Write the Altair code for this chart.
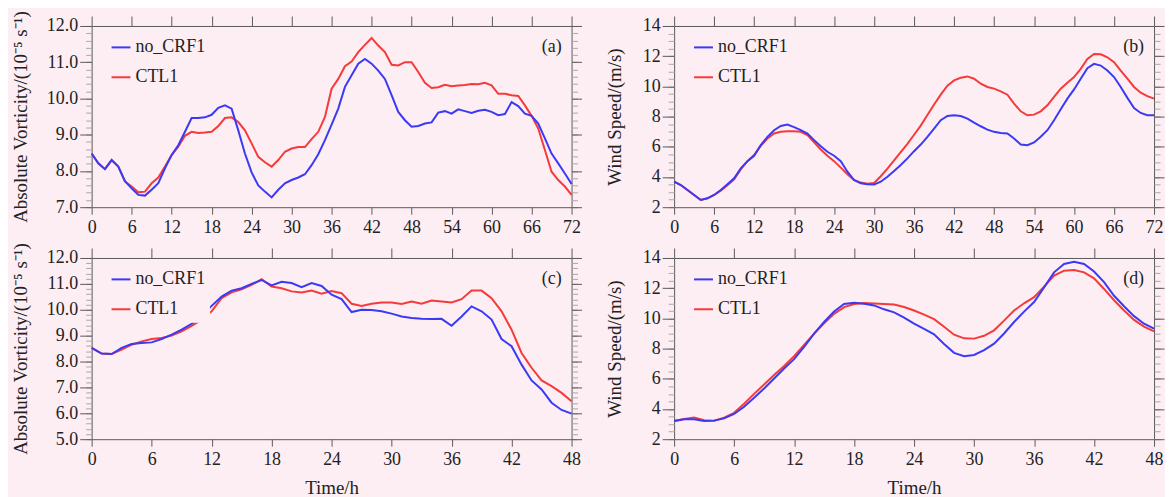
import altair as alt
import pandas as pd

BG = "#fdeef4"
FONT = "Liberation Serif"
BLUE = "#3a3af5"
RED = "#f53a3a"
FRAME = "#5a5a5a"
MINOR = "#a8a8a8"
TXT = "#222222"

series_names = ["no_CRF1", "CTL1"]

hours_72 = list(range(73))
hours_48 = list(range(49))

# (a) absolute vorticity, 72 h
a_no = [8.48, 8.21, 8.05, 8.30, 8.12, 7.72, 7.52, 7.34, 7.32, 7.48,
        7.66, 8.07, 8.44, 8.71, 9.08, 9.46, 9.46, 9.48, 9.55, 9.74,
        9.81, 9.72, 9.12, 8.48, 7.96, 7.60, 7.43, 7.27, 7.48, 7.66,
        7.75, 7.82, 7.91, 8.16, 8.46, 8.85, 9.28, 9.72, 10.32, 10.64,
        10.96, 11.09, 10.96, 10.77, 10.54, 10.09, 9.63, 9.40, 9.22, 9.24,
        9.31, 9.34, 9.61, 9.65, 9.58, 9.70, 9.65, 9.60, 9.66, 9.69,
        9.63, 9.54, 9.57, 9.90, 9.79, 9.58, 9.52, 9.31, 8.90, 8.48,
        8.21, 7.93, 7.64]
a_ctl = [8.48, 8.21, 8.05, 8.30, 8.12, 7.71, 7.57, 7.41, 7.43, 7.66,
         7.82, 8.12, 8.44, 8.67, 8.97, 9.08, 9.05, 9.06, 9.08, 9.24,
         9.46, 9.48, 9.35, 9.12, 8.76, 8.39, 8.24, 8.12, 8.30, 8.53,
         8.62, 8.66, 8.66, 8.88, 9.08, 9.49, 10.27, 10.54, 10.89, 11.02,
         11.28, 11.48, 11.67, 11.46, 11.28, 10.93, 10.91, 11.00, 11.00, 10.73,
         10.43, 10.29, 10.31, 10.38, 10.34, 10.36, 10.37, 10.40, 10.39, 10.43,
         10.36, 10.13, 10.13, 10.09, 10.07, 9.81, 9.52, 9.17, 8.58, 7.98,
         7.75, 7.57, 7.34]

# (b) wind speed, 72 h
b_no = [3.69, 3.47, 3.14, 2.81, 2.48, 2.59, 2.81, 3.14, 3.52, 3.91,
        4.57, 5.05, 5.41, 6.11, 6.66, 7.10, 7.38, 7.47, 7.30, 7.10,
        6.88, 6.44, 6.04, 5.67, 5.41, 5.05, 4.35, 3.80, 3.58, 3.52,
        3.50, 3.69, 4.02, 4.40, 4.79, 5.23, 5.71, 6.15, 6.66, 7.21,
        7.76, 8.04, 8.09, 8.04, 7.87, 7.60, 7.36, 7.14, 6.99, 6.92,
        6.88, 6.55, 6.15, 6.11, 6.29, 6.66, 7.10, 7.76, 8.48, 9.19,
        9.80, 10.51, 11.21, 11.49, 11.38, 11.05, 10.62, 9.96, 9.24, 8.57,
        8.24, 8.09, 8.09]
b_ctl = [3.69, 3.47, 3.14, 2.81, 2.48, 2.59, 2.81, 3.10, 3.45, 3.85,
         4.50, 5.05, 5.45, 6.07, 6.55, 6.88, 6.99, 7.03, 7.03, 6.99,
         6.77, 6.29, 5.82, 5.41, 5.05, 4.62, 4.18, 3.80, 3.63, 3.56,
         3.60, 4.05, 4.55, 5.10, 5.65, 6.20, 6.80, 7.40, 8.10, 8.80,
         9.45, 10.05, 10.40, 10.57, 10.66, 10.51, 10.18, 9.96, 9.85, 9.67,
         9.45, 8.86, 8.35, 8.09, 8.13, 8.35, 8.75, 9.30, 9.85, 10.24,
         10.62, 11.16, 11.82, 12.15, 12.13, 11.93, 11.60, 11.05, 10.51, 9.96,
         9.58, 9.36, 9.19]

# (c) absolute vorticity, 48 h
c_no = [8.53, 8.31, 8.29, 8.53, 8.68, 8.72, 8.74, 8.87, 9.04, 9.23,
        9.46, 9.75, 10.15, 10.51, 10.74, 10.83, 11.00, 11.15, 10.94, 11.08,
        11.03, 10.87, 11.03, 10.92, 10.58, 10.41, 9.91, 10.00, 9.99, 9.94,
        9.85, 9.74, 9.68, 9.65, 9.64, 9.65, 9.38, 9.74, 10.13, 9.94,
        9.62, 8.87, 8.59, 7.88, 7.27, 6.92, 6.41, 6.13, 5.99]
c_ctl = [8.53, 8.31, 8.29, 8.46, 8.65, 8.78, 8.87, 8.91, 9.00, 9.17,
         9.38, 9.62, 9.94, 10.45, 10.67, 10.79, 10.96, 11.18, 10.90, 10.83,
         10.71, 10.67, 10.74, 10.62, 10.72, 10.64, 10.23, 10.15, 10.23, 10.28,
         10.28, 10.22, 10.32, 10.23, 10.36, 10.32, 10.28, 10.41, 10.74, 10.74,
         10.45, 9.94, 9.23, 8.33, 7.76, 7.27, 7.05, 6.79, 6.47]

# (d) wind speed, 48 h
d_no = [3.21, 3.32, 3.32, 3.21, 3.23, 3.38, 3.67, 4.15, 4.75, 5.36,
        6.02, 6.68, 7.30, 8.11, 8.99, 9.76, 10.46, 10.95, 11.03, 10.97,
        10.86, 10.60, 10.40, 10.05, 9.65, 9.30, 8.95, 8.30, 7.72, 7.50,
        7.58, 7.90, 8.33, 9.00, 9.76, 10.45, 11.08, 12.05, 13.05, 13.60,
        13.75, 13.60, 13.10, 12.40, 11.50, 10.80, 10.15, 9.65, 9.32]
d_ctl = [3.21, 3.34, 3.43, 3.25, 3.23, 3.43, 3.75, 4.35, 5.00, 5.62,
         6.25, 6.85, 7.50, 8.25, 8.99, 9.68, 10.30, 10.75, 10.95, 11.02,
         10.98, 10.95, 10.92, 10.75, 10.52, 10.25, 9.95, 9.45, 8.92, 8.68,
         8.66, 8.85, 9.21, 9.85, 10.52, 11.00, 11.41, 12.10, 12.83, 13.16,
         13.21, 13.05, 12.65, 11.95, 11.20, 10.52, 9.90, 9.45, 9.14]

vort_title = "Absolute Vorticity/(10\u207b\u2075 s\u207b\u00b9)"
wind_title = "Wind Speed/(m/s)"

W, H = 482, 182


def make_df(hours, no, ctl):
    rows = [{"t": h, "v": v, "s": "CTL1"} for h, v in zip(hours, ctl)]
    rows += [{"t": h, "v": v, "s": "no_CRF1"} for h, v in zip(hours, no)]
    return pd.DataFrame(rows)


def frange(lo, hi, step):
    n = int(round((hi - lo) / step))
    return [round(lo + i * step, 4) for i in range(n + 1)]


def panel(df, xmax, ymin, ymax, ystep, yminor, yfmt, ytitle, tpad, label, xtitle):
    xticks = list(range(0, xmax + 1, 6))
    yticks = frange(ymin, ymax, ystep)
    yminors = frange(ymin, ymax, yminor)
    xs = alt.Scale(domain=[0, xmax], nice=False, zero=False)
    ys = alt.Scale(domain=[ymin, ymax], nice=False, zero=False)
    base = alt.Chart(df)

    lines = base.mark_line(strokeWidth=2).encode(
        x=alt.X("t:Q", scale=xs, axis=alt.Axis(
            orient="bottom", values=xticks, tickSize=7, tickColor=FRAME,
            labelPadding=4, domain=False, grid=False, labelFlush=False,
            labelOverlap=False, title=xtitle, titlePadding=11)),
        y=alt.Y("v:Q", scale=ys, axis=alt.Axis(
            orient="left", values=yticks, format=yfmt, tickSize=12,
            tickColor=FRAME, labelPadding=2, domain=False, grid=False,
            labelFlush=False, labelOverlap=False, title=ytitle, titlePadding=tpad)),
        color=alt.Color("s:N", scale=alt.Scale(domain=series_names, range=[BLUE, RED]),
                        legend=alt.Legend(
                            title=None, orient="none", legendX=16, legendY=8,
                            symbolType="stroke", symbolSize=361, symbolStrokeWidth=2,
                            labelFont=FONT, labelFontSize=18, labelColor=TXT,
                            labelOffset=4, rowPadding=10, padding=3,
                            fillColor=BG, strokeColor=BG)),
    )
    top_right = base.mark_line(strokeOpacity=0).encode(
        x=alt.X("t:Q", scale=xs, axis=alt.Axis(
            orient="top", values=xticks, tickSize=10, tickColor=FRAME,
            labels=False, domain=False, grid=False, title=None)),
        y=alt.Y("v:Q", scale=ys, axis=alt.Axis(
            orient="right", values=yticks, tickSize=10, tickColor=FRAME,
            labels=False, domain=False, grid=False, title=None)),
    )
    minor_l = base.mark_line(strokeOpacity=0).encode(
        x=alt.X("t:Q", scale=xs, axis=None),
        y=alt.Y("v:Q", scale=ys, axis=alt.Axis(
            orient="left", values=yminors, tickSize=6, tickColor=MINOR,
            labels=False, domain=False, grid=False, title=None)),
    )
    minor_r = base.mark_line(strokeOpacity=0).encode(
        x=alt.X("t:Q", scale=xs, axis=None),
        y=alt.Y("v:Q", scale=ys, axis=alt.Axis(
            orient="right", values=yminors, tickSize=6, tickColor=MINOR,
            labels=False, domain=False, grid=False, title=None)),
    )
    lab = alt.Chart(pd.DataFrame({"label": [label]})).mark_text(
        font=FONT, fontSize=18, color=TXT, align="right", baseline="middle"
    ).encode(x=alt.value(W - 10), y=alt.value(21), text="label:N")

    return alt.layer(minor_l, minor_r, top_right, lines, lab).resolve_scale(
        x="independent", y="independent").properties(width=W, height=H)


pa = panel(make_df(hours_72, a_no, a_ctl), 72, 7.0, 12.0, 1.0, 0.2, ".1f", vort_title, 16, "(a)", None)
pb = panel(make_df(hours_72, b_no, b_ctl), 72, 2, 14, 2, 0.5, "d", wind_title, 18, "(b)", None)
pc = panel(make_df(hours_48, c_no, c_ctl), 48, 5.0, 12.0, 1.0, 0.2, ".1f", vort_title, 16, "(c)", "Time/h")
pd_ = panel(make_df(hours_48, d_no, d_ctl), 48, 2, 14, 2, 0.5, "d", wind_title, 18, "(d)", "Time/h")

chart = alt.concat(pa, pb, pc, pd_, columns=2, spacing={"row": 51, "column": 103},
                   bounds="flush").resolve_scale(color="independent").properties(
    padding={"left": 3, "top": 1, "right": 0, "bottom": 0},
    background=BG,
).configure_view(
    stroke=FRAME, strokeWidth=1, fill=BG
).configure_axis(
    labelFont=FONT, labelFontSize=18, labelColor=TXT,
    titleFont=FONT, titleFontSize=19, titleFontWeight="normal", titleColor=TXT,
    tickColor=FRAME, tickWidth=1
)

chart.save("out.html", embed_options={"renderer": "svg", "actions": False})
